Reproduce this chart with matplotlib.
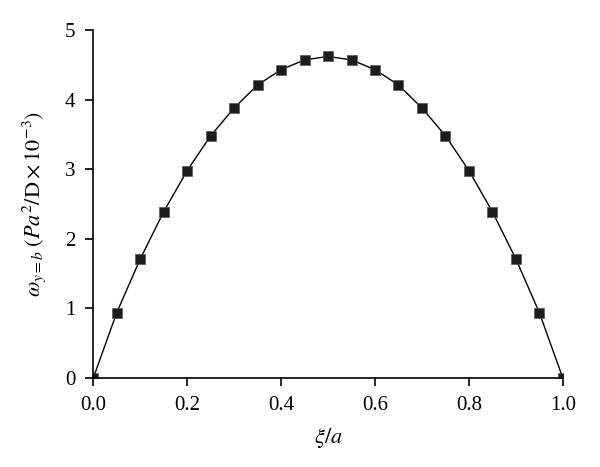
import numpy as np
import matplotlib
matplotlib.use("Agg")
import matplotlib.pyplot as plt

# Dati
xi_a = [0.0, 0.05, 0.1, 0.15, 0.2, 0.25, 0.3, 0.35, 0.4, 0.45, 0.5,
        0.55, 0.6, 0.65, 0.7, 0.75, 0.8, 0.85, 0.9, 0.95, 1.0]
omega = [0.0, 0.94, 1.71, 2.39, 2.98, 3.48, 3.88, 4.21, 4.43, 4.57, 4.62,
         4.57, 4.43, 4.21, 3.88, 3.48, 2.98, 2.39, 1.71, 0.94, 0.0]
x_ticks = [0.0, 0.2, 0.4, 0.6, 0.8, 1.0]
y_ticks = [0, 1, 2, 3, 4, 5]

plt.rcParams['font.family'] = ['Liberation Serif', 'DejaVu Serif']
plt.rcParams['mathtext.fontset'] = 'stix'

fig = plt.figure(figsize=(6, 4.67), dpi=100)
ax = fig.add_axes([0.1555, 0.1906, 0.7825, 0.7452])

ax.plot(xi_a, omega, color='black', linewidth=1.0, marker='s', markersize=7,
        markerfacecolor='#1c1c1c', markeredgecolor='#555555', markeredgewidth=0.5,
        clip_on=True, zorder=1)

ax.set_xlim(0, 1)
ax.set_ylim(0, 5)
ax.set_xticks(x_ticks)
ax.set_xticklabels([f"{v:.1f}" for v in x_ticks])
ax.set_yticks(y_ticks)
ax.spines['top'].set_visible(False)
ax.spines['right'].set_visible(False)
for s in ['left', 'bottom']:
    ax.spines[s].set_linewidth(1.2)
    ax.spines[s].set_zorder(3)
ax.tick_params(direction='out', length=6, width=1.2, labelsize=15, pad=7)

ax.set_xlabel(r'$\xi/a$', fontsize=16, labelpad=8)
ax.set_ylabel(r'$\omega_{y=b}\;(Pa^2/\mathrm{D}\times10^{-3})$', fontsize=16, labelpad=12)

fig.savefig('out.png', dpi=100)
